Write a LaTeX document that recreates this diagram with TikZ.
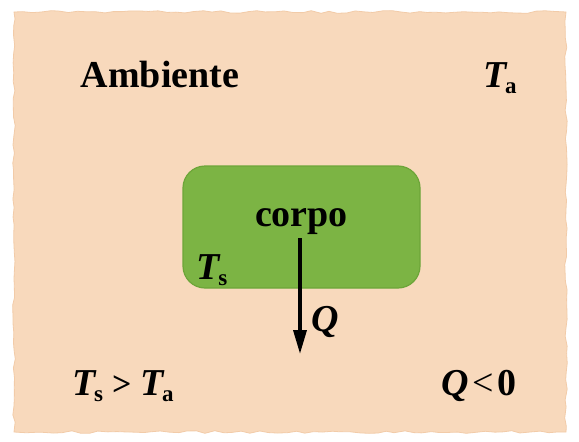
\documentclass[tikz,border=0pt]{standalone}
\usepackage{fontspec}
\setmainfont{Liberation Serif}
\usetikzlibrary{arrows.meta,positioning,decorations.pathmorphing}
\definecolor{Peach}{HTML}{F8D9BC}
\definecolor{PeachEdge}{HTML}{F2CBA8}
\definecolor{Body}{HTML}{7CB444}
\definecolor{BodyEdge}{HTML}{6DA539}
\newcommand{\tempsub}[2]{{\bfseries\itshape #1}\kern-0.04em\raisebox{-0.4ex}{\fontsize{23}{23}\selectfont\bfseries\upshape #2}}
\tikzset{
  every node/.append style={text=black, font=\fontsize{38}{44}\selectfont\bfseries},
  body/.style={draw=BodyEdge, line width=1.2pt, fill=Body, rounded corners=22pt,
               minimum width=237pt, minimum height=122pt, inner sep=0pt},
  lbl/.style={inner sep=1pt, anchor=base},
  heat/.style={-{Triangle[length=24pt,width=13pt]}, line width=3.5pt, draw=black},
}
\begin{document}
\begin{tikzpicture}[x=1pt,y=-1pt]
  \useasboundingbox (0,0) rectangle (579,442);
  \pgfmathsetseed{7}
  % ambiente
  \fill[Peach, draw=PeachEdge, line width=0.8pt,
        decorate, decoration={random steps, segment length=9pt, amplitude=1.3pt}]
    (14,12) -- (566,12) -- (566,432) -- (14,432) -- cycle;
  % corpo
  \node[body] (box) at (301.5,227) {};
  \node[lbl] (corpo) at (301.5,226) {corpo};
  \node[lbl] (Ts) at (212,279) {\tempsub{T}{s}};
  \coordinate (tip) at (300,354);
  \draw[heat] (300,238) -- (tip) node[pos=0.72, right=6pt, font=\fontsize{38}{44}\selectfont\bfseries\itshape] (Q) {Q};
  % labels
  \node[lbl] (amb) at (160,87) {Ambiente};
  \node[lbl] (Ta) at (500,87) {\tempsub{T}{a}};
  \node[lbl] (cond) at (123,395) {\tempsub{T}{s}\kern9pt{\fontsize{34}{40}\selectfont >}\kern9pt\tempsub{T}{a}};
  \node[lbl] (sign) at (479,395) {\textit{Q}\kern4pt{\mdseries<}\kern4pt0};
\end{tikzpicture}
\end{document}
